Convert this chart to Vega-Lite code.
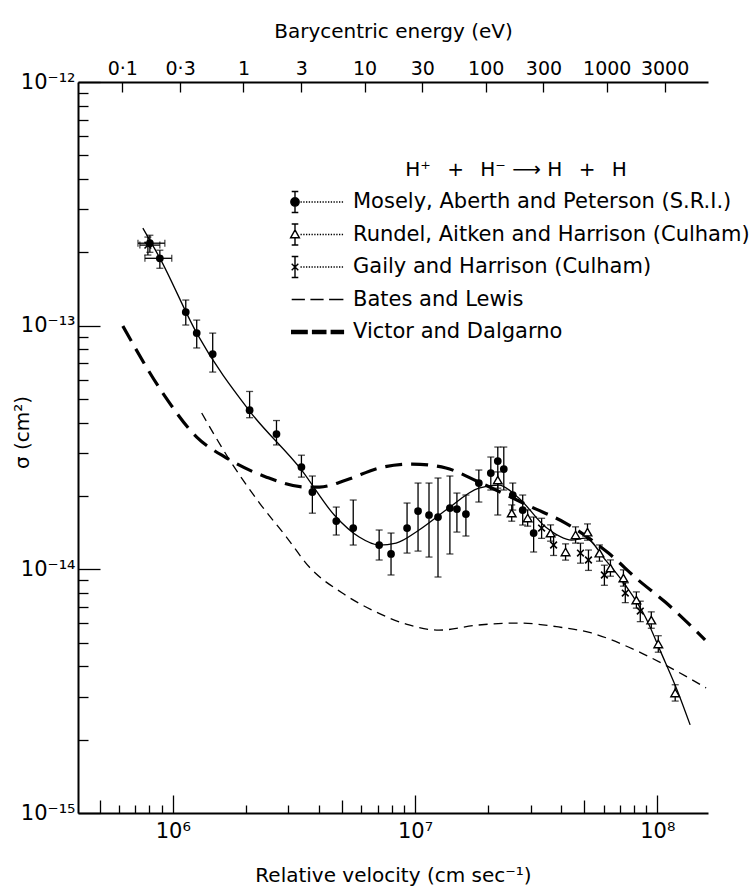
{
  "$schema": "https://vega.github.io/schema/vega-lite/v6.json",
  "width": 630,
  "height": 731,
  "autosize": {"type": "none"},
  "padding": {"left": 78, "top": 82, "right": 48, "bottom": 76},
  "background": "white",
  "config": {
    "view": {"stroke": null},
    "font": "DejaVu Sans",
    "axis": {"labelFont": "DejaVu Sans", "titleFont": "DejaVu Sans", "labelColor": "black", "titleColor": "black", "domainColor": "black", "tickColor": "black", "grid": false, "titleFontWeight": "normal"},
    "legend": {"labelFont": "DejaVu Sans", "titleFont": "DejaVu Sans"}
  },
  "datasets": {
    "pts": [
      {"set": "M", "v": 8.04e5, "s": 2.18e-13, "lo": 2.0e-13, "hi": 2.35e-13, "vlo": 7.18e5, "vhi": 9.27e5},
      {"set": "M", "v": 8.84e5, "s": 1.89e-13, "lo": 1.72e-13, "hi": 2.04e-13, "vlo": 7.67e5, "vhi": 9.9e5},
      {"set": "M", "v": 1.131e6, "s": 1.137e-13, "lo": 1.006e-13, "hi": 1.274e-13},
      {"set": "M", "v": 1.255e6, "s": 9.32e-14, "lo": 8.1e-14, "hi": 1.054e-13},
      {"set": "M", "v": 1.461e6, "s": 7.65e-14, "lo": 6.45e-14, "hi": 9.32e-14},
      {"set": "M", "v": 2.075e6, "s": 4.5e-14, "lo": 4.19e-14, "hi": 5.37e-14},
      {"set": "M", "v": 2.679e6, "s": 3.59e-14, "lo": 3.24e-14, "hi": 4.08e-14},
      {"set": "M", "v": 3.396e6, "s": 2.63e-14, "lo": 2.39e-14, "hi": 2.94e-14},
      {"set": "M", "v": 3.768e6, "s": 2.076e-14, "lo": 1.7e-14, "hi": 2.415e-14},
      {"set": "M", "v": 4.73e6, "s": 1.578e-14, "lo": 1.383e-14, "hi": 1.801e-14},
      {"set": "M", "v": 5.557e6, "s": 1.477e-14, "lo": 1.258e-14, "hi": 1.925e-14},
      {"set": "M", "v": 7.11e6, "s": 1.258e-14, "lo": 1.092e-14, "hi": 1.45e-14},
      {"set": "M", "v": 7.96e6, "s": 1.156e-14, "lo": 9.48e-15, "hi": 1.409e-14},
      {"set": "M", "v": 9.27e6, "s": 1.477e-14, "lo": 1.166e-14, "hi": 1.871e-14},
      {"set": "M", "v": 1.029e7, "s": 1.735e-14, "lo": 1.188e-14, "hi": 2.26e-14},
      {"set": "M", "v": 1.142e7, "s": 1.671e-14, "lo": 1.123e-14, "hi": 2.26e-14},
      {"set": "M", "v": 1.244e7, "s": 1.639e-14, "lo": 9.3e-15, "hi": 2.37e-14},
      {"set": "M", "v": 1.393e7, "s": 1.784e-14, "lo": 1.156e-14, "hi": 2.415e-14},
      {"set": "M", "v": 1.489e7, "s": 1.767e-14, "lo": 1.422e-14, "hi": 2.056e-14},
      {"set": "M", "v": 1.622e7, "s": 1.686e-14, "lo": 1.37e-14, "hi": 2.018e-14},
      {"set": "M", "v": 1.834e7, "s": 2.26e-14, "lo": 1.889e-14, "hi": 2.556e-14},
      {"set": "M", "v": 2.055e7, "s": 2.484e-14, "lo": 2.116e-14, "hi": 2.89e-14},
      {"set": "M", "v": 2.196e7, "s": 2.783e-14, "lo": 1.671e-14, "hi": 3.176e-14},
      {"set": "M", "v": 2.325e7, "s": 2.58e-14, "lo": 2.116e-14, "hi": 3.176e-14},
      {"set": "M", "v": 2.532e7, "s": 2.018e-14, "lo": 1.751e-14, "hi": 2.26e-14},
      {"set": "M", "v": 2.783e7, "s": 1.751e-14, "lo": 1.52e-14, "hi": 2.018e-14},
      {"set": "M", "v": 3.088e7, "s": 1.409e-14, "lo": 1.178e-14, "hi": 1.639e-14},
      {"set": "R", "v": 2.196e7, "s": 2.325e-14, "lo": 2.153e-14, "hi": 2.511e-14},
      {"set": "R", "v": 2.507e7, "s": 1.702e-14, "lo": 1.576e-14, "hi": 1.838e-14},
      {"set": "R", "v": 2.917e7, "s": 1.624e-14, "lo": 1.504e-14, "hi": 1.754e-14},
      {"set": "R", "v": 3.628e7, "s": 1.409e-14, "lo": 1.305e-14, "hi": 1.522e-14},
      {"set": "R", "v": 4.183e7, "s": 1.178e-14, "lo": 1.091e-14, "hi": 1.272e-14},
      {"set": "R", "v": 4.6e7, "s": 1.383e-14, "lo": 1.281e-14, "hi": 1.494e-14},
      {"set": "R", "v": 5.152e7, "s": 1.422e-14, "lo": 1.317e-14, "hi": 1.536e-14},
      {"set": "R", "v": 5.773e7, "s": 1.166e-14, "lo": 1.08e-14, "hi": 1.259e-14},
      {"set": "R", "v": 6.407e7, "s": 1.012e-14, "lo": 9.37e-15, "hi": 1.093e-14},
      {"set": "R", "v": 7.25e7, "s": 9.21e-15, "lo": 8.53e-15, "hi": 9.95e-15},
      {"set": "R", "v": 8.2e7, "s": 7.48e-15, "lo": 6.93e-15, "hi": 8.08e-15},
      {"set": "R", "v": 9.45e7, "s": 6.19e-15, "lo": 5.73e-15, "hi": 6.69e-15},
      {"set": "R", "v": 1.01e8, "s": 4.94e-15, "lo": 4.57e-15, "hi": 5.34e-15},
      {"set": "R", "v": 1.186e8, "s": 3.11e-15, "lo": 2.88e-15, "hi": 3.36e-15},
      {"set": "G", "v": 7.89e5, "s": 2.141e-13, "lo": 1.949e-13, "hi": 2.31e-13, "vlo": 7.31e5, "vhi": 8.84e5},
      {"set": "G", "v": 3.331e7, "s": 1.477e-14, "lo": 1.34e-14, "hi": 1.62e-14},
      {"set": "G", "v": 3.733e7, "s": 1.258e-14, "lo": 1.14e-14, "hi": 1.38e-14},
      {"set": "G", "v": 4.82e7, "s": 1.166e-14, "lo": 1.06e-14, "hi": 1.28e-14},
      {"set": "G", "v": 5.2e7, "s": 1.092e-14, "lo": 9.9e-15, "hi": 1.2e-14},
      {"set": "G", "v": 6.05e7, "s": 9.48e-15, "lo": 8.6e-15, "hi": 1.04e-14},
      {"set": "G", "v": 7.38e7, "s": 7.99e-15, "lo": 7.3e-15, "hi": 8.8e-15},
      {"set": "G", "v": 8.51e7, "s": 6.74e-15, "lo": 6.1e-15, "hi": 7.4e-15}
    ],
    "curves": [
      {"c": "fit", "v": 7.52e5, "s": 2.515e-13},
      {"c": "fit", "v": 8.84e5, "s": 1.894e-13},
      {"c": "fit", "v": 1.255e6, "s": 9.32e-14},
      {"c": "fit", "v": 2.075e6, "s": 4.46e-14},
      {"c": "fit", "v": 3.396e6, "s": 2.56e-14},
      {"c": "fit", "v": 4.64e6, "s": 1.671e-14},
      {"c": "fit", "v": 5.88e6, "s": 1.357e-14},
      {"c": "fit", "v": 7.11e6, "s": 1.258e-14},
      {"c": "fit", "v": 8.35e6, "s": 1.282e-14},
      {"c": "fit", "v": 1.039e7, "s": 1.45e-14},
      {"c": "fit", "v": 1.342e7, "s": 1.751e-14},
      {"c": "fit", "v": 1.834e7, "s": 2.156e-14},
      {"c": "fit", "v": 2.217e7, "s": 2.218e-14},
      {"c": "fit", "v": 2.679e7, "s": 1.962e-14},
      {"c": "fit", "v": 3.46e7, "s": 1.491e-14},
      {"c": "fit", "v": 4.43e7, "s": 1.319e-14},
      {"c": "fit", "v": 5.05e7, "s": 1.344e-14},
      {"c": "fit", "v": 6.11e7, "s": 1.092e-14},
      {"c": "fit", "v": 7.38e7, "s": 8.62e-15},
      {"c": "fit", "v": 8.93e7, "s": 6.37e-15},
      {"c": "fit", "v": 1.039e8, "s": 4.53e-15},
      {"c": "fit", "v": 1.221e8, "s": 3.11e-15},
      {"c": "fit", "v": 1.367e8, "s": 2.3e-15},
      {"c": "vd", "v": 6.22e5, "s": 9.96e-14},
      {"c": "vd", "v": 9.09e5, "s": 5.29e-14},
      {"c": "vd", "v": 1.255e6, "s": 3.49e-14},
      {"c": "vd", "v": 1.668e6, "s": 2.862e-14},
      {"c": "vd", "v": 2.436e6, "s": 2.39e-14},
      {"c": "vd", "v": 3.56e6, "s": 2.176e-14},
      {"c": "vd", "v": 4.03e6, "s": 2.176e-14},
      {"c": "vd", "v": 5.2e6, "s": 2.325e-14},
      {"c": "vd", "v": 7.11e6, "s": 2.604e-14},
      {"c": "vd", "v": 9.72e6, "s": 2.705e-14},
      {"c": "vd", "v": 1.342e7, "s": 2.604e-14},
      {"c": "vd", "v": 1.834e7, "s": 2.281e-14},
      {"c": "vd", "v": 3.03e7, "s": 1.801e-14},
      {"c": "vd", "v": 4.18e7, "s": 1.549e-14},
      {"c": "vd", "v": 6.29e7, "s": 1.166e-14},
      {"c": "vd", "v": 8.35e7, "s": 9.04e-15},
      {"c": "vd", "v": 1.079e8, "s": 7.34e-15},
      {"c": "vd", "v": 1.576e8, "s": 5.13e-15},
      {"c": "bl", "v": 1.316e6, "s": 4.38e-14},
      {"c": "bl", "v": 1.716e6, "s": 2.81e-14},
      {"c": "bl", "v": 2.28e6, "s": 1.871e-14},
      {"c": "bl", "v": 2.945e6, "s": 1.357e-14},
      {"c": "bl", "v": 3.66e6, "s": 1.022e-14},
      {"c": "bl", "v": 5.01e6, "s": 7.99e-15},
      {"c": "bl", "v": 6.91e6, "s": 6.68e-15},
      {"c": "bl", "v": 9.45e6, "s": 5.91e-15},
      {"c": "bl", "v": 1.256e7, "s": 5.63e-15},
      {"c": "bl", "v": 1.834e7, "s": 5.91e-15},
      {"c": "bl", "v": 2.679e7, "s": 6.02e-15},
      {"c": "bl", "v": 3.91e7, "s": 5.8e-15},
      {"c": "bl", "v": 5.35e7, "s": 5.48e-15},
      {"c": "bl", "v": 7.6e7, "s": 4.8e-15},
      {"c": "bl", "v": 1.039e8, "s": 4.13e-15},
      {"c": "bl", "v": 1.591e8, "s": 3.26e-15}
    ],
    "names": [
      {"n": "Mosely, Aberth and Peterson (S.R.I.)"},
      {"n": "Rundel, Aitken and Harrison (Culham)"},
      {"n": "Gaily and Harrison (Culham)"},
      {"n": "Bates and Lewis"},
      {"n": "Victor and Dalgarno"}
    ]
  },
  "resolve": {"axis": {"x": "independent", "y": "independent"}},
  "layer": [
    {
      "data": {"name": "curves"},
      "transform": [{"filter": "datum.c == 'fit'"}],
      "mark": {"type": "line", "color": "black", "strokeWidth": 1.3, "interpolate": "monotone"},
      "encoding": {
        "x": {"field": "v", "type": "quantitative",
          "scale": {"type": "log", "domain": [406000, 162000000], "nice": false},
          "axis": {
            "orient": "bottom",
            "values": [500000, 600000, 700000, 800000, 900000, 1000000, 2000000, 3000000, 4000000, 5000000, 6000000, 7000000, 8000000, 9000000, 10000000, 20000000, 30000000, 40000000, 50000000, 60000000, 70000000, 80000000, 90000000, 100000000],
            "labelExpr": "datum.value == 1000000 ? '10⁶' : datum.value == 10000000 ? '10⁷' : datum.value == 100000000 ? '10⁸' : ''",
            "tickSize": {"expr": "abs(log(datum.value)/LN10 - round(log(datum.value)/LN10)) < 0.01 ? -18 : ((datum.value == 500000 || datum.value == 5000000 || datum.value == 50000000) ? -13 : -8)"},
            "labelPadding": 25, "labelFontSize": 21, "labelFlush": false, "labelOverlap": false,
            "domainWidth": 2, "tickWidth": 1.3,
            "title": "Relative velocity   (cm sec⁻¹)", "titleFontSize": 20, "titlePadding": 14
          }
        },
        "y": {"field": "s", "type": "quantitative",
          "scale": {"type": "log", "domain": [1e-15, 1e-12], "nice": false},
          "axis": {
            "orient": "left",
            "values": [1e-15, 2e-15, 3e-15, 4e-15, 5e-15, 6e-15, 7e-15, 8e-15, 9e-15, 1e-14, 2e-14, 3e-14, 4e-14, 5e-14, 6e-14, 7e-14, 8e-14, 9e-14, 1e-13, 2e-13, 3e-13, 4e-13, 5e-13, 6e-13, 7e-13, 8e-13, 9e-13, 1e-12],
            "labelExpr": "datum.value == 1e-12 ? '10⁻¹²' : datum.value == 1e-13 ? '10⁻¹³' : datum.value == 1e-14 ? '10⁻¹⁴' : datum.value == 1e-15 ? '10⁻¹⁵' : ''",
            "tickSize": {"expr": "abs(log(datum.value)/LN10 - round(log(datum.value)/LN10)) < 0.01 ? -22 : -10"},
            "labelPadding": 25, "labelFontSize": 21, "labelFlush": false, "labelOverlap": false,
            "domainWidth": 2, "tickWidth": 1.3,
            "title": "σ  (cm²)", "titleFontSize": 20, "titleX": -46, "titleY": 350, "titleAngle": -90
          }
        }
      }
    },
    {
      "data": {"name": "curves"},
      "transform": [{"filter": "datum.c == 'bl'"}],
      "mark": {"type": "line", "color": "black", "strokeWidth": 1.3, "strokeDash": [9, 6], "interpolate": "monotone"},
      "encoding": {
        "x": {"field": "v", "type": "quantitative",
          "axis": {
            "orient": "top",
            "values": [618900, 1071900, 1957000, 3390000, 6189000, 10719000, 19570000, 33900000, 61890000, 107190000],
            "labelExpr": "datum.value < 800000 ? '0·1' : datum.value < 1500000 ? '0·3' : datum.value < 2500000 ? '1' : datum.value < 4500000 ? '3' : datum.value < 8000000 ? '10' : datum.value < 15000000 ? '30' : datum.value < 25000000 ? '100' : datum.value < 45000000 ? '300' : datum.value < 80000000 ? '1000' : '3000'",
            "tickSize": -10, "labelPadding": 14, "labelFontSize": 19, "labelFlush": false, "labelOverlap": false,
            "domainWidth": 2, "tickWidth": 1.3,
            "title": "Barycentric energy   (eV)", "titleFontSize": 20, "titlePadding": 18
          }
        },
        "y": {"field": "s", "type": "quantitative", "axis": null}
      }
    },
    {
      "data": {"name": "curves"},
      "transform": [{"filter": "datum.c == 'vd'"}],
      "mark": {"type": "line", "color": "black", "strokeWidth": 3.2, "strokeDash": [17, 9], "interpolate": "monotone"},
      "encoding": {
        "x": {"field": "v", "type": "quantitative", "axis": null},
        "y": {"field": "s", "type": "quantitative", "axis": null}
      }
    },
    {
      "data": {"name": "pts"},
      "mark": {"type": "rule", "color": "black", "strokeWidth": 1.3},
      "encoding": {
        "x": {"field": "v", "type": "quantitative", "axis": null},
        "y": {"field": "lo", "type": "quantitative", "axis": null},
        "y2": {"field": "hi"}
      }
    },
    {
      "data": {"name": "pts"},
      "mark": {"type": "tick", "orient": "horizontal", "color": "black", "size": 7, "thickness": 1.3},
      "encoding": {
        "x": {"field": "v", "type": "quantitative", "axis": null},
        "y": {"field": "lo", "type": "quantitative", "axis": null}
      }
    },
    {
      "data": {"name": "pts"},
      "mark": {"type": "tick", "orient": "horizontal", "color": "black", "size": 7, "thickness": 1.3},
      "encoding": {
        "x": {"field": "v", "type": "quantitative", "axis": null},
        "y": {"field": "hi", "type": "quantitative", "axis": null}
      }
    },
    {
      "data": {"name": "pts"},
      "transform": [{"filter": "isValid(datum.vlo)"}],
      "mark": {"type": "rule", "color": "black", "strokeWidth": 1.3},
      "encoding": {
        "x": {"field": "vlo", "type": "quantitative", "axis": null},
        "x2": {"field": "vhi"},
        "y": {"field": "s", "type": "quantitative", "axis": null}
      }
    },
    {
      "data": {"name": "pts"},
      "transform": [{"filter": "isValid(datum.vlo)"}],
      "mark": {"type": "tick", "orient": "vertical", "color": "black", "size": 7, "thickness": 1.3},
      "encoding": {
        "x": {"field": "vlo", "type": "quantitative", "axis": null},
        "y": {"field": "s", "type": "quantitative", "axis": null}
      }
    },
    {
      "data": {"name": "pts"},
      "transform": [{"filter": "isValid(datum.vlo)"}],
      "mark": {"type": "tick", "orient": "vertical", "color": "black", "size": 7, "thickness": 1.3},
      "encoding": {
        "x": {"field": "vhi", "type": "quantitative", "axis": null},
        "y": {"field": "s", "type": "quantitative", "axis": null}
      }
    },
    {
      "data": {"name": "pts"},
      "transform": [{"filter": "datum.set == 'M'"}],
      "mark": {"type": "point", "shape": "circle", "filled": true, "color": "black", "size": 60, "opacity": 1},
      "encoding": {
        "x": {"field": "v", "type": "quantitative", "axis": null},
        "y": {"field": "s", "type": "quantitative", "axis": null}
      }
    },
    {
      "data": {"name": "pts"},
      "transform": [{"filter": "datum.set == 'R'"}],
      "mark": {"type": "point", "shape": "triangle-up", "fill": "white", "stroke": "black", "strokeWidth": 1.4, "size": 75, "opacity": 1, "fillOpacity": 1},
      "encoding": {
        "x": {"field": "v", "type": "quantitative", "axis": null},
        "y": {"field": "s", "type": "quantitative", "axis": null}
      }
    },
    {
      "data": {"name": "pts"},
      "transform": [{"filter": "datum.set == 'G'"}],
      "mark": {"type": "point", "shape": "M-1,-1L1,1M-1,1L1,-1", "filled": false, "stroke": "black", "strokeWidth": 1.6, "size": 45, "opacity": 1},
      "encoding": {
        "x": {"field": "v", "type": "quantitative", "axis": null},
        "y": {"field": "s", "type": "quantitative", "axis": null}
      }
    },
    {
      "data": {"name": "names"},
      "transform": [{"filter": "false"}],
      "mark": {"type": "point", "strokeWidth": 1.4, "opacity": 1},
      "encoding": {
        "shape": {"field": "n", "type": "nominal",
          "scale": {
            "domain": ["Mosely, Aberth and Peterson (S.R.I.)", "Rundel, Aitken and Harrison (Culham)", "Gaily and Harrison (Culham)", "Bates and Lewis", "Victor and Dalgarno"],
            "range": [
              "M0.38,0A0.38,0.38 0 1 1 -0.38,0A0.38,0.38 0 1 1 0.38,0ZM0,-0.95V0.95M-0.3,-0.95H0.3M-0.3,0.95H0.3M0.5,0h0.12M0.75,0h0.12M1,0h0.12M1.25,0h0.12M1.5,0h0.12M1.75,0h0.12M2,0h0.12M2.25,0h0.12M2.5,0h0.12M2.75,0h0.12M3,0h0.12M3.25,0h0.12M3.5,0h0.12M3.75,0h0.12M4,0h0.12M4.25,0h0.12",
              "M0,-0.42L0.4,0.3L-0.4,0.3ZM0,-0.95V-0.42M0,0.3V0.95M-0.3,-0.95H0.3M-0.3,0.95H0.3M0.5,0h0.12M0.75,0h0.12M1,0h0.12M1.25,0h0.12M1.5,0h0.12M1.75,0h0.12M2,0h0.12M2.25,0h0.12M2.5,0h0.12M2.75,0h0.12M3,0h0.12M3.25,0h0.12M3.5,0h0.12M3.75,0h0.12M4,0h0.12M4.25,0h0.12",
              "M-0.3,-0.3L0.3,0.3M-0.3,0.3L0.3,-0.3M0,-0.95V0.95M-0.3,-0.95H0.3M-0.3,0.95H0.3M0.5,0h0.12M0.75,0h0.12M1,0h0.12M1.25,0h0.12M1.5,0h0.12M1.75,0h0.12M2,0h0.12M2.25,0h0.12M2.5,0h0.12M2.75,0h0.12M3,0h0.12M3.25,0h0.12M3.5,0h0.12M3.75,0h0.12M4,0h0.12M4.25,0h0.12",
              "M-0.3,0H0.9M1.4,0H2.6M3.1,0H4.4",
              "M-0.3,-0.14H1.1V0.14H-0.3ZM1.6,-0.14H2.8V0.14H1.6ZM3.3,-0.14H4.4V0.14H3.3Z"
            ]
          },
          "legend": {"title": "H⁺ \u2002+\u2002 H⁻ ⟶ H \u2002+\u2002 H", "orient": "none", "legendX": 205, "legendY": 78, "symbolSize": 484, "symbolStrokeWidth": 1.4, "symbolOpacity": 1, "labelFontSize": 21, "labelColor": "black", "labelOffset": 46, "labelLimit": 0, "gridAlign": "all", "rowPadding": 4.5, "titleFontSize": 20, "titleFontWeight": "normal", "titleColor": "black", "titleAnchor": "middle", "titlePadding": 10, "titleLimit": 0, "padding": 0}
        },
        "fill": {"field": "n", "type": "nominal",
          "scale": {
            "domain": ["Mosely, Aberth and Peterson (S.R.I.)", "Rundel, Aitken and Harrison (Culham)", "Gaily and Harrison (Culham)", "Bates and Lewis", "Victor and Dalgarno"],
            "range": ["black", "white", "white", "white", "black"]
          },
          "legend": {"title": "H⁺ \u2002+\u2002 H⁻ ⟶ H \u2002+\u2002 H", "orient": "none", "legendX": 205, "legendY": 78, "symbolSize": 484, "symbolStrokeWidth": 1.4, "symbolOpacity": 1, "labelFontSize": 21, "labelColor": "black", "labelOffset": 46, "labelLimit": 0, "gridAlign": "all", "rowPadding": 4.5, "titleFontSize": 20, "titleFontWeight": "normal", "titleColor": "black", "titleAnchor": "middle", "titlePadding": 10, "titleLimit": 0, "padding": 0}
        },
        "stroke": {"field": "n", "type": "nominal",
          "scale": {
            "domain": ["Mosely, Aberth and Peterson (S.R.I.)", "Rundel, Aitken and Harrison (Culham)", "Gaily and Harrison (Culham)", "Bates and Lewis", "Victor and Dalgarno"],
            "range": ["black", "black", "black", "black", "black"]
          },
          "legend": {"title": "H⁺ \u2002+\u2002 H⁻ ⟶ H \u2002+\u2002 H", "orient": "none", "legendX": 205, "legendY": 78, "symbolSize": 484, "symbolStrokeWidth": 1.4, "symbolOpacity": 1, "labelFontSize": 21, "labelColor": "black", "labelOffset": 46, "labelLimit": 0, "gridAlign": "all", "rowPadding": 4.5, "titleFontSize": 20, "titleFontWeight": "normal", "titleColor": "black", "titleAnchor": "middle", "titlePadding": 10, "titleLimit": 0, "padding": 0}
        }
      }
    }
  ]
}
